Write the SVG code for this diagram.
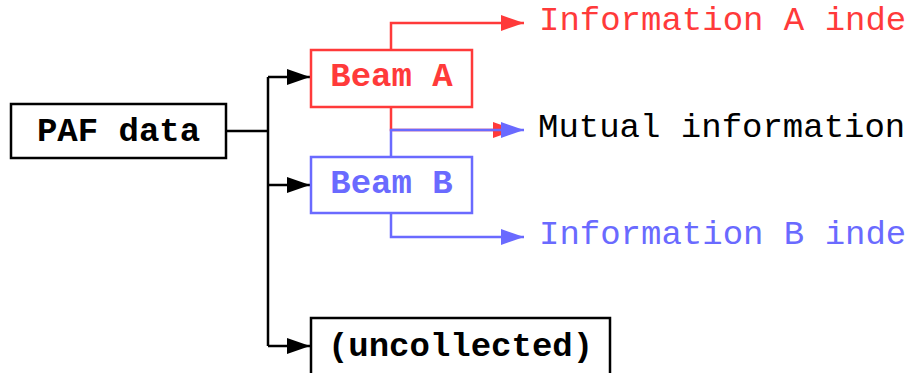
<svg xmlns="http://www.w3.org/2000/svg" width="907" height="373" viewBox="0 0 907 373">
<defs>
<style>
.box{fill:#fff;stroke-width:2.5}
.lbl{font-family:"Courier New","Nimbus Mono PS","FreeMono","Liberation Mono",monospace;font-size:34px;font-weight:bold;text-anchor:middle}
.out{font-family:"Courier New","Nimbus Mono PS","FreeMono","Liberation Mono",monospace;font-size:34px}
.c{fill:none;stroke-width:2.5}
</style>
<marker id="ak" markerUnits="userSpaceOnUse" markerWidth="24" markerHeight="18" refX="23" refY="8" orient="auto"><path d="M0,0 L23,8 L0,16 Z" fill="#000"/></marker>
<marker id="ar" markerUnits="userSpaceOnUse" markerWidth="24" markerHeight="18" refX="23" refY="8" orient="auto"><path d="M0,0 L23,8 L0,16 Z" fill="#ff3a3a"/></marker>
<marker id="ab" markerUnits="userSpaceOnUse" markerWidth="24" markerHeight="18" refX="23" refY="8" orient="auto"><path d="M0,0 L23,8 L0,16 Z" fill="#6a6aff"/></marker>
</defs>
<rect width="907" height="373" fill="#fff"/>
<g id="connectors">
<path class="c" stroke="#000" d="M226,131 H268 M268,77 V346"/>
<path class="c" stroke="#000" d="M268,77 H310" marker-end="url(#ak)"/>
<path class="c" stroke="#000" d="M268,185 H310" marker-end="url(#ak)"/>
<path class="c" stroke="#000" d="M268,346 H310" marker-end="url(#ak)"/>
<path class="c" stroke="#ff3a3a" d="M391,50 V23 H524" marker-end="url(#ar)"/>
<path class="c" stroke="#ff3a3a" d="M391,107 V130 H516" marker-end="url(#ar)"/>
<path class="c" stroke="#6a6aff" d="M391,157 V130 H524" marker-end="url(#ab)"/>
<path class="c" stroke="#6a6aff" d="M391,213 V237 H524" marker-end="url(#ab)"/>
</g>
<g id="paf"><rect class="box" x="11" y="104" width="215" height="54" stroke="#000"/><text class="lbl" x="118.5" y="141" fill="#000">PAF data</text></g>
<g id="beamA"><rect class="box" x="311" y="50" width="161" height="57" stroke="#ff3a3a"/><text class="lbl" x="391.5" y="86" fill="#ff3a3a">Beam A</text></g>
<g id="beamB"><rect class="box" x="311" y="157" width="161" height="56" stroke="#6a6aff"/><text class="lbl" x="391.5" y="193" fill="#6a6aff">Beam B</text></g>
<g id="uncollected"><rect class="box" x="311" y="318" width="299" height="60" stroke="#000"/><text class="lbl" x="460.5" y="356" fill="#000">(uncollected)</text></g>
<g id="outputs">
<text class="out" x="539" y="30" fill="#ff3a3a">Information A inde</text>
<text class="out" x="538" y="137" fill="#000">Mutual information</text>
<text class="out" x="539" y="244" fill="#6a6aff">Information B inde</text>
</g>
</svg>
